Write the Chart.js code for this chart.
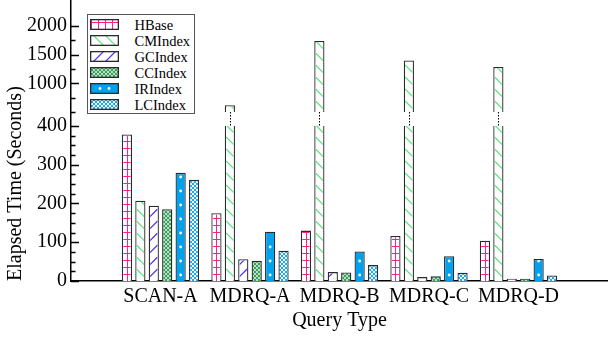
<!DOCTYPE html>
<html>
<head>
<meta charset="utf-8">
<script src="https://cdn.jsdelivr.net/npm/chart.js@4.4.1/dist/chart.umd.min.js"></script>
<style>
  body { margin: 0; background: #fff; }
  #wrap { position: relative; width: 608px; height: 341px; }
  #legend {
    position: absolute; left: 87px; top: 14px; width: 108px; height: 100px;
    box-sizing: border-box; border: 1.5px solid #555; background: #fff;
    font-family: 'Liberation Serif', 'Times New Roman', serif; font-size: 14.5px; color: #000;
  }
  .row { position: absolute; left: 0; width: 100%; height: 16px; }
  .row canvas { position: absolute; left: 1.5px; top: 2.5px; }
  .row span { position: absolute; left: 46.5px; top: 0; line-height: 16px; white-space: nowrap; }
</style>
</head>
<body>
<div id="wrap">
  <canvas id="chart" width="608" height="341"></canvas>
  <div id="legend"></div>
</div>
<script>
  const categories = ["SCAN-A", "MDRQ-A", "MDRQ-B", "MDRQ-C", "MDRQ-D"];
  const hbase   = [378, 175, 130, 116, 104];
  const cmindex = [207, 620, 1740, 1400, 1285];
  const gcindex = [194, 56, 23, 10, 6];
  const ccindex = [185, 52, 22, 12, 6];
  const irindex = [279, 127, 76, 64, 57];
  const lcindex = [261, 78, 41, 21, 14];

  const majorTicks = [0, 100, 200, 300, 400, 1000, 1500, 2000];
  const minorTicks = [25, 50, 75, 125, 150, 175, 225, 250, 275, 325, 350, 375, 500, 750, 1250, 1750];

  // broken axis: 0-400 linear, then a gap, then 500+ compressed
  const LOW_TOP = 400, HIGH_BOTTOM = 500, GAP = 36, HIGH_SCALE = 0.148;
  function brk(v) {
    return v <= LOW_TOP ? v : LOW_TOP + GAP + (v - HIGH_BOTTOM) * HIGH_SCALE;
  }

  Chart.defaults.font.family = "'Liberation Serif', 'Times New Roman', serif";
  Chart.defaults.color = "#000";

  // fill decorations, drawn inside each bar rect
  const decor = {
    HBase(ctx, l, t, w, h) {
      ctx.strokeStyle = "#ff1f8f";
      ctx.lineWidth = 1;
      const cx = Math.round(l + w / 2) + 0.5;
      ctx.beginPath();
      for (let x = cx - 28; x <= cx + 28; x += 7) { ctx.moveTo(x, t); ctx.lineTo(x, t + h); }
      for (let y = Math.round(t + h) - 6.5; y > t - 1; y -= 7) { ctx.moveTo(l, y); ctx.lineTo(l + w, y); }
      ctx.stroke();
    },
    CMIndex(ctx, l, t, w, h) {
      ctx.strokeStyle = "#5ae67c";
      ctx.lineWidth = 1.2;
      ctx.beginPath();
      for (let y = t + h; y > t - w - 12; y -= 12) { ctx.moveTo(l, y); ctx.lineTo(l + w, y + w); }
      ctx.stroke();
    },
    GCIndex(ctx, l, t, w, h) {
      ctx.strokeStyle = "#5a2cff";
      ctx.lineWidth = 1.3;
      ctx.beginPath();
      for (let y = t + h + w; y > t - 12; y -= 12) { ctx.moveTo(l, y); ctx.lineTo(l + w, y - w); }
      ctx.stroke();
    },
    CCIndex(ctx, l, t, w, h) {
      ctx.fillStyle = "#b5e2c1";
      const b = Math.round(t + h);
      for (let y = b - 2, j = 0; y > t - 2; y -= 2, j++) {
        for (let x = Math.floor(l), i = 0; x < l + w; x += 2, i++) {
          if ((i + j) % 2 === 0) ctx.fillRect(x, y, 2, 2);
        }
      }
    },
    IRIndex(ctx, l, t, w, h) {
      ctx.fillStyle = "#fff";
      const cols = w > 16 ? [l + w / 3, l + 2 * w / 3] : [l + w / 2];
      const start = w > 16 ? t + h / 2 : t + h - 6;
      for (let y = start; y > t; y -= 14) {
        cols.forEach((x) => { ctx.beginPath(); ctx.arc(x, y, 1.4, 0, Math.PI * 2); ctx.fill(); });
      }
    },
    LCIndex(ctx, l, t, w, h) {
      ctx.fillStyle = "#f2faff";
      const b = Math.round(t + h);
      for (let y = b - 2, j = 0; y > t - 2; y -= 2, j++) {
        for (let x = Math.floor(l), i = 0; x < l + w; x += 2, i++) {
          if ((i + j) % 2 === 0) ctx.fillRect(x, y, 2, 2);
        }
      }
    }
  };

  const series = [
    { label: "HBase", values: hbase, bg: "#ffffff" },
    { label: "CMIndex", values: cmindex, bg: "#ffffff" },
    { label: "GCIndex", values: gcindex, bg: "#ffffff" },
    { label: "CCIndex", values: ccindex, bg: "#3f9d61" },
    { label: "IRIndex", values: irindex, bg: "#00a2ef" },
    { label: "LCIndex", values: lcindex, bg: "#22a7ee" }
  ];

  const decorPlugin = {
    id: "decor",
    afterDatasetsDraw(chart) {
      const ctx = chart.ctx;
      chart.data.datasets.forEach((ds, di) => {
        const meta = chart.getDatasetMeta(di);
        meta.data.forEach((bar, i) => {
          if (ds.data[i] == null) return;
          const p = bar.getProps(["x", "y", "base", "width"], true);
          const bw = ds.borderWidth;
          const l = p.x - p.width / 2 + bw;
          const r = p.x + p.width / 2 - bw;
          const t = Math.min(p.y, p.base) + bw;
          const b = p.base;
          ctx.save();
          ctx.beginPath();
          ctx.rect(l, t, r - l, b - t);
          ctx.clip();
          decor[ds.label](ctx, l, t, r - l, b - t);
          ctx.restore();
        });
      });

      // axis break on bars that go past the lower segment
      const y = chart.scales.y;
      const yLo = y.getPixelForValue(brk(LOW_TOP));
      const yHi = y.getPixelForValue(brk(HIGH_BOTTOM));
      chart.data.datasets.forEach((ds, di) => {
        const meta = chart.getDatasetMeta(di);
        meta.data.forEach((bar, i) => {
          const raw = ds.raw[i];
          if (raw == null || raw <= LOW_TOP) return;
          const p = bar.getProps(["x", "width"], true);
          ctx.save();
          ctx.fillStyle = "#fff";
          ctx.fillRect(p.x - p.width / 2 - 1, yHi, p.width + 2, yLo - yHi);
          ctx.strokeStyle = "#000";
          ctx.lineWidth = 1;
          ctx.setLineDash([1.5, 1.5]);
          ctx.beginPath();
          ctx.moveTo(Math.round(p.x) + 0.5, yHi);
          ctx.lineTo(Math.round(p.x) + 0.5, yLo);
          ctx.stroke();
          ctx.restore();
        });
      });
    },
    afterDraw(chart) {
      // inward tick marks on the y axis
      const ctx = chart.ctx;
      const y = chart.scales.y;
      const x0 = chart.chartArea.left;
      ctx.save();
      ctx.strokeStyle = "#000";
      ctx.lineWidth = 1.3;
      ctx.beginPath();
      majorTicks.forEach((v) => {
        const py = Math.round(y.getPixelForValue(brk(v))) + 0.5;
        ctx.moveTo(x0, py); ctx.lineTo(x0 + 8, py);
      });
      minorTicks.forEach((v) => {
        const py = Math.round(y.getPixelForValue(brk(v))) + 0.5;
        ctx.moveTo(x0, py); ctx.lineTo(x0 + 4.5, py);
      });
      ctx.stroke();
      ctx.restore();
    }
  };

  const datasets = series.map((s) => ({
    label: s.label,
    raw: [null, ...s.values, null],
    data: [null, ...s.values.map(brk), null],
    backgroundColor: s.bg,
    borderColor: "#2a2a2a",
    borderWidth: 1.3,
    borderSkipped: "start",
    barPercentage: 0.76,
    categoryPercentage: 0.9
  }));

  new Chart(document.getElementById("chart"), {
    type: "bar",
    data: { labels: ["", ...categories, ""], datasets },
    plugins: [decorPlugin],
    options: {
      responsive: false,
      animation: false,
      layout: { padding: 0 },
      plugins: { legend: { display: false }, tooltip: { enabled: false } },
      scales: {
        x: {
          offset: false,
          grid: { display: false, drawTicks: false },
          border: { color: "#000", width: 1.5 },
          ticks: { font: { size: 20 }, color: "#000", padding: 4, autoSkip: false, maxRotation: 0 },
          title: { display: true, text: "Query Type", font: { size: 20 }, color: "#000", padding: { top: 0, bottom: 8 } },
          afterFit(s) { s.height = 60; s.paddingLeft = 0; s.paddingRight = 0; }
        },
        y: {
          min: 0,
          max: 725,
          grid: { display: false, drawTicks: false },
          border: { color: "#000", width: 1.5 },
          ticks: { font: { size: 20 }, color: "#000", padding: 4, autoSkip: false, callback: (v, i) => majorTicks[i] },
          afterBuildTicks(s) { s.ticks = majorTicks.map((v) => ({ value: brk(v) })); },
          title: { display: true, text: "Elapsed Time (Seconds)", align: "start", font: { size: 20 }, color: "#000", padding: { top: 4, bottom: 0 } },
          afterFit(s) { s.width = 71; s.paddingTop = 0; s.paddingBottom = 0; }
        }
      }
    }
  });

  // legend
  const legendEl = document.getElementById("legend");
  series.forEach((s, i) => {
    const row = document.createElement("div");
    row.className = "row";
    row.style.top = (1.5 + i * 16) + "px";
    const c = document.createElement("canvas");
    c.width = 29; c.height = 11;
    const g = c.getContext("2d");
    g.fillStyle = s.bg;
    g.fillRect(0, 0, 29, 11);
    g.save();
    g.beginPath(); g.rect(1, 1, 27, 9); g.clip();
    decor[s.label](g, 1, 1, 27, 9);
    g.restore();
    g.strokeStyle = "#2a2a2a";
    g.lineWidth = 1.3;
    g.strokeRect(0.65, 0.65, 27.7, 9.7);
    const span = document.createElement("span");
    span.textContent = s.label;
    row.appendChild(c);
    row.appendChild(span);
    legendEl.appendChild(row);
  });
</script>
</body>
</html>
